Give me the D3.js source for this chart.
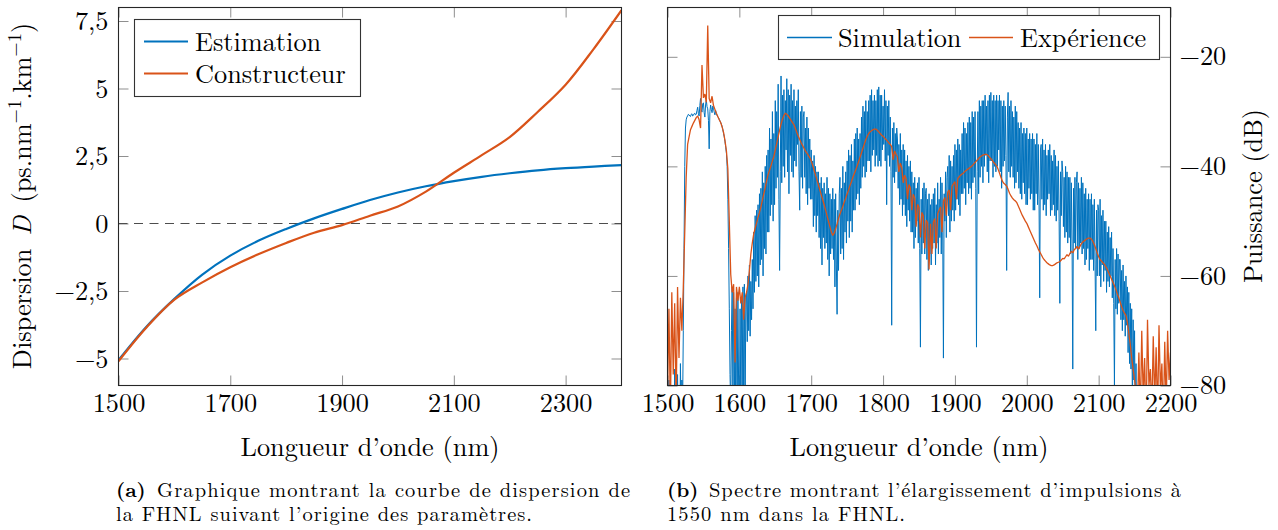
<!DOCTYPE html>
<html><head><meta charset="utf-8">
<script src="https://cdn.jsdelivr.net/npm/d3@7"></script>
<style>
body{margin:0;background:#fff;}
</style></head><body>
<svg id="c" width="1278" height="530" style="font-family:'Latin Modern Roman','Liberation Serif',serif"></svg>
<script>
// ---------- (a) dispersion data ----------
const dispWavelengths = [1500,1550,1600,1650,1700,1750,1800,1850,1900,1950,2000,2050,2100,2150,2200,2250,2300,2350,2400];
const estimation   = [-5.06,-3.82,-2.79,-1.89,-1.19,-0.64,-0.20,0.19,0.54,0.87,1.15,1.38,1.57,1.73,1.86,1.97,2.05,2.11,2.16];
const constructeur = [-5.10,-3.85,-2.82,-2.18,-1.62,-1.14,-0.72,-0.34,-0.06,0.29,0.63,1.18,1.88,2.53,3.20,4.13,5.14,6.46,7.90];
const dispXTicks = [1500,1700,1900,2100,2300];
const dispYTicks = [-5,-2.5,0,2.5,5,7.5];
const dispLegend = ["Estimation","Constructeur"];

// ---------- (b) spectrum data ----------
// Simulation: 1500 → 2200 nm, one value every 1 nm
const simStart = 1500, simStep = 1;
const simulation = [
-84,-90,-79,-88,-86,-91,-81,-90,-88,-92, -77,-86,-85,-90,-78,-89,-83,-91,-76,-87,
-79,-84,-70,-55,-40,-33,-31.5,-31,-30.8,-30.5, -30.6,-30.8,-30.9,-30.5,-30.4,-30.8,-30.7,-30.4,-30.3,-30.6,
-30.5,-29.8,-29.2,-30.4,-30.8,-28.9,-27.6,-29.7,-30.1,-28.6, -28.4,-30.2,-31.0,-28.8,-27.9,-29.1,-29.5,-31.6,-36.8,-30.0,
-28.8,-29.6,-30.2,-29.0,-29.4,-30.1,-30.6,-29.8,-30.4,-30.7, -31.0,-31.1,-31.4,-31.7,-32.0,-32.3,-32.7,-33.3,-34.0,-34.6,
-35.5,-36.5,-37.6,-40,-46,-55,-66,-78,-84,-70, -62,-80,-63,-85,-66,-88,-64,-83,-63,-81,
-86,-66,-84,-64,-80,-62,-84,-61.5,-86,-64, -63,-72,-60,-70,-58,-71,-61,-68,-57,-66,
-52,-63,-49,-61,-48,-60,-47,-62,-45,-58, -44,-57,-41,-60,-43,-55,-40,-56,-38,-52,
-37,-52,-33,-49,-35,-47,-30,-50,-34,-47, -28,-44,-30,-42,-25,-46,-59,-41,-23.5,-43,
-27,-40,-26,-42,-28,-37,-24,-41,-26,-45, -27,-38,-25,-41,-28,-42,-26,-39,-29,-40,
-28,-36,-26,-41,-48,-30,-42,-29,-44,-31, -30,-42,-33,-45,-31,-47,-33,-44,-35,-46,
-37,-46,-39,-51,-38,-49,-40,-52,-41,-49, -41,-53,-43,-55,-42,-58,-44,-53,-43,-55,
-45,-54,-42,-57,-44,-60,-45,-56,-46,-55, -44,-57,-46,-62,-45,-58,-67,-48,-59,-45,
-42,-56,-44,-55,-40,-57,-43,-52,-41,-54, -39,-50,-37,-53,-38,-50,-36,-52,-39,-48,
-35,-48,-34,-46,-33,-45,-35,-47,-34,-44, -31,-42,-29,-40,-30,-42,-28,-41,-30,-39,
-28,-39,-27,-41,-26,-38,-28,-37,-27,-40, -28,-38,-26,-40,-25.5,-39,-27,-40,-27,-37,
-29,-36,-26,-39,-28,-47,-29,-38,-28,-40, -31,-41,-69,-33,-42,-32,-43,-34,-41,-33,
-35,-44,-36,-47,-34,-46,-37,-49,-36,-47, -37,-49,-39,-51,-38,-48,-40,-50,-39,-52,
-41,-52,-43,-55,-42,-53,-44,-50,-43,-54, -42,-55,-73,-46,-56,-44,-54,-43,-56,-45,
-44,-57,-46,-59,-45,-56,-47,-58,-46,-55, -45,-54,-44,-58,-47,-54,-43,-56,-46,-53,
-42,-56,-43,-52,-75,-45,-50,-41,-53,-42, -40,-49,-38,-52,-39,-50,-40,-48,-38,-50,
-36,-48,-37,-46,-35,-47,-36,-49,-37,-45, -34,-45,-32,-44,-33,-47,-34,-43,-32,-45,
-31,-44,-32,-46,-30,-43,-31,-42,-30,-44, -73,-41,-30,-45,-28,-42,-29,-40,-28,-43,
-28,-40,-27,-38,-29,-41,-28,-43,-27,-39, -26.5,-39,-28,-42,-27,-40,-28,-41,-27,-40,
-28,-37,-27,-41,-28,-44,-29,-40,-28,-39, -29,-38,-59,-31,-26.5,-41,-29,-42,-28,-40,
-30,-42,-31,-44,-29,-43,-30,-41,-32,-44, -33,-45,-32,-46,-34,-43,-33,-45,-34,-47,
-33,-47,-35,-44,-34,-46,-35,-45,-34,-48, -35,-48,-36,-45,-34,-47,-36,-46,-64,-37,
-36,-46,-35,-48,-37,-47,-36,-49,-38,-46, -37,-45,-36,-49,-38,-48,-39,-47,-37,-49,
-38,-50,-40,-48,-39,-50,-65,-41,-49,-39, -41,-51,-42,-53,-40,-52,-41,-54,-42,-53,
-42,-56,-43,-54,-77,-44,-54,-42,-55,-43, -41,-57,-43,-55,-44,-54,-42,-56,-43,-55,
-45,-58,-44,-57,-46,-55,-45,-59,-46,-57, -45,-57,-47,-59,-46,-58,-70,-48,-60,-47,
-48,-60,-46,-62,-49,-58,-48,-61,-50,-59, -50,-63,-52,-61,-51,-62,-53,-60,-52,-64,
-55,-65,-80,-57,-66,-55,-67,-56,-65,-57, -57,-68,-59,-70,-58,-68,-61,-71,-60,-69,
-62,-74,-63,-76,-65,-77,-66,-84,-68,-79, -70,-88,-76,-90,-84,-92,-88,-92,-92,-92,
-92,-92,-92,-92,-92,-92,-92,-92,-92,-92, -92,-92,-92,-92,-92,-92,-92,-92,-92,-92,
-92,-92,-92,-92,-92,-92,-92,-92,-92,-92, -92,-92,-92,-92,-92,-92,-92,-92,-92,-92,
-92
];
// Expérience: 1500 → 2200 nm, one value every 2 nm
const expStart = 1500, expStep = 2;
const experience = [
-82,-66,-85,-63,-78, -65,-84,-62,-75,-64, -70,-62,-52,-42,-36, -34.6,-33.3,-32.7,-32.1,-31.6,
-31.1,-30.8,-31.5,-33.0,-21.5, -27.5,-26.8,-28.3,-14.3,-27.6, -28.4,-27.2,-28.9,-29.6,-30.3, -30.9,-31.5,-32.0,-32.8,-33.8,
-35.3,-37.2,-40.5,-50,-59.7, -63,-61.5,-75.8,-62,-64.5, -62,-65,-63,-68,-64, -63,-61.5,-59,-56,-54,
-52.3,-51.3,-50.3,-49.3,-48.4, -47.4,-46.2,-45,-43.9,-42.6, -41.5,-40.7,-39.9,-39.0,-38.2, -37.0,-35.8,-34.6,-33.4,-32.3,
-31.4,-30.7,-30.3,-30.5,-30.8, -31.2,-31.6,-32.0,-32.4,-33.1, -33.8,-34.5,-35.1,-35.7,-36.2, -36.7,-37.2,-37.6,-38.0,-38.4,
-39.0,-39.8,-40.7,-41.6,-42.5, -43.4,-44.3,-45.2,-46.1,-47.0, -48.0,-49.0,-50.0,-51.0,-52.0, -52.6,-52.2,-51.4,-50.5,-49.5,
-48.7,-48.0,-47.3,-46.5,-45.8, -45.0,-44.3,-43.5,-42.8,-42.0, -41.3,-40.6,-39.9,-39.1,-38.3, -37.5,-36.7,-35.9,-35.1,-34.5,
-34.0,-33.7,-33.5,-33.3,-33.2, -33.2,-33.4,-33.7,-34.0,-34.3, -34.5,-34.8,-35.1,-35.4,-35.7, -36.0,-36.4,-38.8,-37.2,-37.8,
-38.3,-41.0,-39.4,-40.2,-43.0, -41.6,-42.3,-46.0,-43.3,-43.9, -48.0,-45.1,-45.8,-51.0,-46.9, -47.5,-53.0,-48.4,-49.0,-55.0,
-49.8,-50.3,-58.8,-50.5,-56.0, -50.2,-49.5,-55.0,-48.6,-48.0, -47.4,-52.0,-46.3,-45.7,-49.0, -44.7,-44.3,-48.0,-43.6,-43.2,
-42.8,-46.0,-42.2,-41.9,-41.6, -41.4,-41.2,-40.9,-40.7,-40.5, -40.3,-40.1,-39.9,-39.6,-39.3, -39.0,-38.7,-38.4,-38.2,-38.0,
-37.9,-37.8,-37.8,-38.0,-38.3, -38.6,-38.9,-39.3,-39.6,-39.9, -40.5,-41.2,-42.0,-42.7,-43.1, -43.3,-43.6,-44.2,-44.9,-45.4,
-45.8,-46.1,-46.3,-46.6,-47.2, -47.8,-48.4,-49.0,-49.5,-50.0, -50.4,-51.0,-51.6,-52.2,-52.8, -53.4,-54.0,-54.5,-55.1,-55.6,
-56.1,-56.6,-57.0,-57.3,-57.6, -57.8,-58.0,-58.1,-58.1,-58.0, -57.8,-57.6,-57.5,-57.4,-57.1, -56.8,-56.9,-56.5,-56.1,-56.4,
-55.9,-55.5,-55.8,-55.2,-55.0, -54.6,-55.1,-54.6,-54.1,-53.8, -53.6,-53.4,-53.2,-53.1,-53.1, -53.3,-53.7,-54.3,-55.0,-55.8,
-56.5,-57.0,-57.3,-57.6,-57.9, -58.3,-58.8,-59.4,-60.0,-60.6, -61.2,-61.8,-62.5,-63.3,-64.0, -64.8,-65.6,-66.3,-66.8,-67.2,
-68.5,-70.5,-72.5,-75,-77, -79,-81,-84,-74,-86, -70,-82,-75,-88,-68, -80,-77,-85,-71,-83,
-73,-86,-69,-81,-76, -87,-72,-84,-70,-79, -74
];
const specXTicks = [1500,1600,1700,1800,1900,2000,2100,2200];
const specYTicks = [-80,-60,-40,-20];
const specLegend = ["Simulation","Expérience"];

const BLUE = "#0072BD", ORANGE = "#D95319";
const FONT = "'Latin Modern Roman','Liberation Serif',serif";
const FS = 26.3;
const svg = d3.select("#c");

// ---------- scales ----------
const xL = d3.scaleLinear().domain([1500,2400]).range([118.5,621.5]);
const yL = d3.scaleLinear().domain([-6,8]).range([385.5,7.5]);
const xR = d3.scaleLinear().domain([1500,2200]).range([667.5,1170.5]);
const yR = d3.scaleLinear().domain([-80,-11]).range([385.5,7.5]);

const fmtComma = d => (d < 0 ? "\u2212" : "") + String(Math.abs(d)).replace(".", ",");
const fmtInt = d => (d < 0 ? "\u2212" : "") + String(Math.abs(d));

function txt(sel){ return sel.append("text").style("font-family", FONT).attr("fill", "#000"); }

function styleAxis(g){
  g.select(".domain").remove();
  g.attr("font-family", null).attr("font-size", FS);
  g.selectAll(".tick line").attr("stroke", "#8f8f8f").attr("stroke-width", 1);
  g.selectAll(".tick text").attr("fill", "#000").style("font-family", FONT);
}

function drawAxes(x, y, xTicks, yTicks, yFmt, labelRight){
  const [x0, x1] = x.range(), [y0, y1] = y.range();
  const T = -10;
  styleAxis(svg.append("g").attr("transform", `translate(0,${y0})`)
    .call(d3.axisBottom(x).tickValues(xTicks).tickSizeInner(T).tickSizeOuter(0).tickPadding(8).tickFormat(d => String(d))));
  styleAxis(svg.append("g").attr("transform", `translate(0,${y1})`)
    .call(d3.axisTop(x).tickValues(xTicks).tickSizeInner(T).tickSizeOuter(0).tickFormat("")));
  const l = svg.append("g").attr("transform", `translate(${x0},0)`)
    .call(d3.axisLeft(y).tickValues(yTicks).tickSizeInner(T).tickSizeOuter(0).tickPadding(10).tickFormat(labelRight ? "" : yFmt));
  styleAxis(l);
  const r = svg.append("g").attr("transform", `translate(${x1},0)`)
    .call(d3.axisRight(y).tickValues(yTicks).tickSizeInner(T).tickSizeOuter(0).tickPadding(9).tickFormat(labelRight ? yFmt : ""));
  styleAxis(r);
  l.selectAll(".tick text").attr("dy", "0.33em");
  r.selectAll(".tick text").attr("dy", "0.31em");
}

function clip(id, x, y){
  const [x0, x1] = x.range(), [y0, y1] = y.range();
  svg.append("clipPath").attr("id", id).append("rect")
    .attr("x", x0).attr("y", y1).attr("width", x1 - x0).attr("height", y0 - y1);
}
function frame(x, y){
  const [x0, x1] = x.range(), [y0, y1] = y.range();
  svg.append("rect").attr("x", x0).attr("y", y1).attr("width", x1 - x0).attr("height", y0 - y1)
    .attr("fill", "none").attr("stroke", "#262626").attr("stroke-width", 1.1);
}

// ================= (a) =================
clip("clipL", xL, yL);
drawAxes(xL, yL, dispXTicks, dispYTicks, fmtComma, false);
const gL = svg.append("g").attr("clip-path", "url(#clipL)");
gL.append("line").attr("x1", xL(1500)).attr("x2", xL(2400)).attr("y1", yL(0)).attr("y2", yL(0))
  .attr("stroke", "#4d4d4d").attr("stroke-width", 1.1).attr("stroke-dasharray", "9,6.5");
const lineL = d3.line().x((d,i) => xL(dispWavelengths[i])).y(d => yL(d)).curve(d3.curveCatmullRom);
gL.append("path").attr("d", lineL(estimation)).attr("fill","none").attr("stroke", BLUE).attr("stroke-width", 2.2);
gL.append("path").attr("d", lineL(constructeur)).attr("fill","none").attr("stroke", ORANGE).attr("stroke-width", 2.2);
frame(xL, yL);

// legend (a)
const legA = svg.append("g");
legA.append("rect").attr("x", 134.5).attr("y", 19.5).attr("width", 226).attr("height", 77)
  .attr("fill", "#fff").attr("stroke", "#333").attr("stroke-width", 1.1);
[BLUE, ORANGE].forEach((c, i) => {
  const yy = 41.5 + i * 32;
  legA.append("line").attr("x1", 144).attr("x2", 188).attr("y1", yy).attr("y2", yy).attr("stroke", c).attr("stroke-width", 2.2);
  txt(legA).attr("x", 195).attr("y", yy + 9).attr("font-size", FS).text(dispLegend[i]);
});

// axis titles (a)
txt(svg).attr("x", (xL.range()[0] + xL.range()[1]) / 2).attr("y", 456)
  .attr("text-anchor", "middle").attr("font-size", FS).text("Longueur d\u2019onde (nm)");
const yt = txt(svg).attr("transform", "translate(31,196) rotate(-90)")
  .attr("text-anchor", "middle").attr("font-size", FS);
yt.append("tspan").text("Dispersion\u00A0");
yt.append("tspan").attr("font-style", "italic").text("D");
yt.append("tspan").text("\u00A0(ps.nm");
yt.append("tspan").attr("font-size", 18.5).attr("dy", -10).text("\u22121");
yt.append("tspan").attr("dy", 10).text(".km");
yt.append("tspan").attr("font-size", 18.5).attr("dy", -10).text("\u22121");
yt.append("tspan").attr("dy", 10).text(")");

// ================= (b) =================
clip("clipR", xR, yR);
drawAxes(xR, yR, specXTicks, specYTicks, fmtInt, true);
const gR = svg.append("g").attr("clip-path", "url(#clipR)");
const lineSim = d3.line().x((d,i) => xR(simStart + i * simStep)).y(d => yR(d));
const lineExp = d3.line().x((d,i) => xR(expStart + i * expStep)).y(d => yR(d));
gR.append("path").attr("d", lineSim(simulation)).attr("fill","none").attr("stroke", BLUE).attr("stroke-width", 1).attr("stroke-linejoin","bevel");
gR.append("path").attr("d", lineExp(experience)).attr("fill","none").attr("stroke", ORANGE).attr("stroke-width", 1.3).attr("stroke-linejoin","bevel");
frame(xR, yR);

// legend (b)
const legB = svg.append("g");
legB.append("rect").attr("x", 778.5).attr("y", 15.5).attr("width", 381).attr("height", 44)
  .attr("fill", "#fff").attr("stroke", "#333").attr("stroke-width", 1.1);
[[787, 832, 838, BLUE], [969, 1013, 1020, ORANGE]].forEach(([a, b, tx, c], i) => {
  legB.append("line").attr("x1", a).attr("x2", b).attr("y1", 37.5).attr("y2", 37.5).attr("stroke", c).attr("stroke-width", 1.3);
  txt(legB).attr("x", tx).attr("y", 46.5).attr("font-size", FS).text(specLegend[i]);
});

txt(svg).attr("x", (xR.range()[0] + xR.range()[1]) / 2).attr("y", 456)
  .attr("text-anchor", "middle").attr("font-size", FS).text("Longueur d\u2019onde (nm)");
txt(svg).attr("transform", "translate(1262,196) rotate(-90)")
  .attr("text-anchor", "middle").attr("font-size", FS).text("Puissance (dB)");

// ================= captions =================
function caption(x, y, len, str, bold){
  const t = txt(svg).attr("x", x).attr("y", y).attr("font-size", 20.5).text(str);
  if (len) t.attr("textLength", len).attr("lengthAdjust", "spacing");
  if (bold) t.attr("font-weight", "bold");
}
caption(116, 497, null, "(a)", true);
caption(157, 497, 473, "Graphique montrant la courbe de dispersion de");
caption(116, 521, 416, "la FHNL suivant l\u2019origine des param\u00e8tres.");
caption(667, 497, null, "(b)", true);
caption(709, 497, 472, "Spectre montrant l\u2019\u00e9largissement d\u2019impulsions \u00e0");
caption(667, 521, 238, "1550 nm dans la FHNL.");
</script></body></html>
